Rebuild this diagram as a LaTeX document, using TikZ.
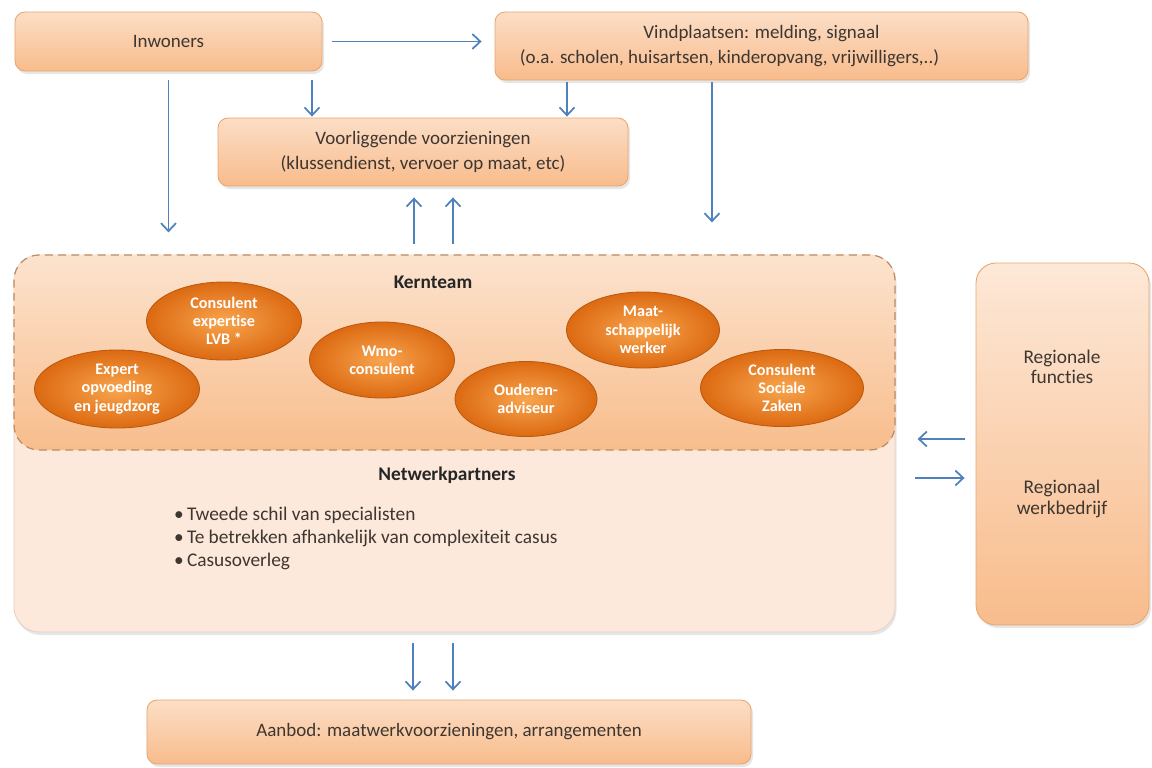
\documentclass[tikz,border=0pt]{standalone}
\usepackage{fontspec}
\setmainfont{Carlito}[Ligatures=NoCommon]
\usetikzlibrary{shapes.geometric,arrows.meta,shadows}

\definecolor{boxlight}{HTML}{FCDEC6}
\definecolor{boxdark}{HTML}{F8BC8C}
\definecolor{boxline}{HTML}{E9A56E}
\definecolor{reglight}{HTML}{FDE8D7}
\definecolor{netfill}{HTML}{FCE9DB}
\definecolor{netline}{HTML}{E6D2C2}
\definecolor{kernlight}{HTML}{FCE3CE}
\definecolor{kerndark}{HTML}{F8BD8C}
\definecolor{kernline}{HTML}{BF8A63}
\definecolor{ellin}{HTML}{F8A54E}
\definecolor{ellout}{HTML}{DC6A12}
\definecolor{arrblue}{HTML}{4F81BD}
\definecolor{txt}{HTML}{3E3630}

\begin{document}
\begin{tikzpicture}[x=0.2mm, y=-0.2mm,
  box/.style={rectangle, rounded corners=2mm, top color=boxlight, bottom color=boxdark, draw=boxline, line width=0.5pt, text=txt, font=\fontsize{10.8}{14}\selectfont, align=center, inner sep=0pt, drop shadow={opacity=0.2, shadow xshift=0.4mm, shadow yshift=-0.6mm}},
  member/.style={ellipse, inner sep=0pt, inner color=ellin, outer color=ellout, draw=ellout!85!black, line width=0.5pt, text=white, font=\fontsize{9.2}{10.4}\selectfont\bfseries, align=center},
  arr/.style={draw=arrblue, line width=1pt, -{Straight Barb[length=4.5pt, width=8.5pt]}}
]
  \useasboundingbox (0,0) rectangle (1152,767);

  \node[box, minimum width=61.4mm, minimum height=11.8mm] (inw) at (168.5,41.5) {Inwoners};
  \node[box, minimum width=106.6mm, minimum height=13.6mm] (vind) at (761.5,46) {Vindplaatsen: melding, signaal\\(o.a. scholen, huisartsen, kinderopvang, vrijwilligers,..)\makebox[12.8mm]{}};
  \node[box, minimum width=82mm, minimum height=13.6mm] (voor) at (423,152) {Voorliggende voorzieningen\\(klussendienst, vervoer op maat, etc)};

  \node[rectangle, rounded corners=5mm, fill=netfill, draw=netline, line width=0.5pt, minimum width=176.2mm, minimum height=75.4mm, drop shadow={opacity=0.2, shadow xshift=0.3mm, shadow yshift=-0.6mm}] (netw) at (454.5,443.5) {};
  \node[rectangle, rounded corners=5mm, top color=kernlight, bottom color=kerndark, draw=kernline, dash pattern=on 4.5pt off 3pt, line width=0.7pt, minimum width=176.2mm, minimum height=39mm] (kern) at (454.5,352.5) {};
  \node[box, rounded corners=4mm, top color=reglight, bottom color=boxdark, minimum width=34.6mm, minimum height=72.4mm] (regio) at (1062.5,444) {};
  \node[box, minimum width=120.8mm, minimum height=12.8mm] (aanb) at (449,732) {Aanbod: maatwerkvoorzieningen, arrangementen};

  \node[font=\fontsize{11}{13}\selectfont\bfseries, text=black!85] (kernlbl) at (433,282) {Kernteam};
  \node[member, minimum width=33mm, minimum height=15.6mm] (expert) at (117,389) {Expert\\opvoeding\\en jeugdzorg};
  \node[member, minimum width=31mm, minimum height=15.6mm] (lvb) at (224,321) {Consulent\\expertise\\LVB *};
  \node[member, minimum width=29mm, minimum height=15.2mm] (wmo) at (382,360) {Wmo-\\consulent};
  \node[member, minimum width=28.4mm, minimum height=15mm] (ouderen) at (526,399) {Ouderen-\\adviseur};
  \node[member, minimum width=30.6mm, minimum height=15.2mm] (maatsch) at (643,330) {Maat-\\schappelijk\\werker};
  \node[member, minimum width=32.6mm, minimum height=15.4mm] (sociaal) at (782,388) {Consulent\\Sociale\\Zaken};

  \node[font=\fontsize{11}{13}\selectfont\bfseries, text=black!85] (netlbl) at (447,475) {Netwerkpartners};
  \node[anchor=west, align=left, font=\fontsize{11}{13.1}\selectfont, text=txt] (netlst) at (168,538) {\textbullet\,Tweede schil van specialisten\\\textbullet\,Te betrekken afhankelijk van complexiteit casus\\\textbullet\,Casusoverleg};

  \node[font=\fontsize{11}{11.5}\selectfont, text=txt, align=center] (regfun) at (1062,367) {Regionale\\functies};
  \node[font=\fontsize{11}{11.5}\selectfont, text=txt, align=center] (regwerk) at (1062,499) {Regionaal\\werkbedrijf};

  \draw[arr, shorten <=2mm, shorten >=2.6mm] (inw.east) -- (inw.east -| vind.west);
  \draw[arr, shorten <=1.8mm, shorten >=4.4mm] (inw.south) -- (inw.south |- kern.north);
  \draw[arr, shorten <=1.8mm, shorten >=0.2mm] (312,0 |- inw.south) -- (312,0 |- voor.north);
  \draw[arr, shorten <=0.4mm, shorten >=0.2mm] (567,0 |- vind.south) -- (567,0 |- voor.north);
  \draw[arr, shorten <=0.4mm, shorten >=6.4mm] (712,0 |- vind.south) -- (712,0 |- kern.north);
  \foreach \ax in {414,453}
    \draw[arr, shorten <=2mm, shorten >=2.2mm] (\ax,0 |- kern.north) -- (\ax,0 |- voor.south);
  \draw[arr, shorten <=2.2mm, shorten >=4.4mm] (regio.west |- 0,439) -- (kern.east |- 0,439);
  \draw[arr, shorten <=4mm, shorten >=2.2mm] (netw.east |- 0,478) -- (regio.west |- 0,478);
  \foreach \ax in {413,453}
    \draw[arr, shorten <=2.2mm, shorten >=1.8mm] (\ax,0 |- netw.south) -- (\ax,0 |- aanb.north);
\end{tikzpicture}
\end{document}
